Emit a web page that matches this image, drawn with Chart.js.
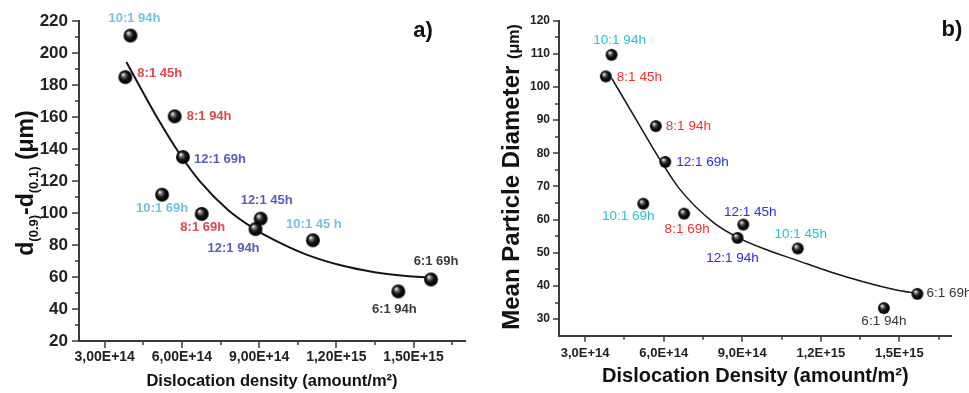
<!DOCTYPE html>
<html><head><meta charset="utf-8">
<script src="https://cdn.jsdelivr.net/npm/chart.js@4.4.1/dist/chart.umd.min.js"></script>
<style>
html,body{margin:0;padding:0;background:#fff;width:969px;height:393px;overflow:hidden;}
#wa{position:absolute;left:0;top:0;width:480px;height:393px;}
#wb{position:absolute;left:480px;top:0;width:489px;height:393px;}
</style></head><body>
<div id="wa"><canvas id="ca" width="480" height="393"></canvas></div>
<div id="wb"><canvas id="cb" width="489" height="393"></canvas></div>
<script>
// ---------- DATA ----------
const sampleLabelsA = ['10:1 94h','8:1 45h','8:1 94h','12:1 69h','10:1 69h','8:1 69h','12:1 94h','12:1 45h','10:1 45 h','6:1 94h','6:1 69h'];
const sampleLabelsB = ['10:1 94h','8:1 45h','8:1 94h','12:1 69h','10:1 69h','8:1 69h','12:1 94h','12:1 45h','10:1 45h','6:1 94h','6:1 69h'];
const ratioGroup = ['10:1','8:1','8:1','12:1','10:1','8:1','12:1','12:1','10:1','6:1','6:1'];

const densityA = [4.0e14, 3.8e14, 5.72e14, 6.04e14, 5.23e14, 6.77e14, 8.86e14, 9.06e14, 1.109e15, 1.441e15, 1.568e15];
const spanA    = [211, 185, 160.5, 135, 111.5, 99.5, 90, 96.5, 83, 51, 58.5];

const densityB = [4.01e14, 3.79e14, 5.70e14, 6.06e14, 5.22e14, 6.78e14, 8.82e14, 9.04e14, 1.112e15, 1.441e15, 1.569e15];
const meanDiamB = [109.7, 103.2, 88.2, 77.4, 64.8, 61.8, 54.5, 58.5, 51.3, 33.3, 37.6];

// fitted curves
const fitXA = [3.84e14, 5.1e14, 5.85e14, 6.69e14, 7.79e14, 8.83e14, 9.54e14, 1.084e15, 1.213e15, 1.343e15, 1.472e15, 1.556e15];
const fitYA = [194.5, 158, 138.5, 120, 102, 90, 83.5, 74, 67.5, 63.2, 60.7, 59.7];
const fitXB = [4.01e14, 5.02e14, 5.85e14, 6.61e14, 7.89e14, 8.84e14, 9.8e14, 1.107e15, 1.234e15, 1.362e15, 1.489e15, 1.565e15];
const fitYB = [102.7, 89.2, 78.2, 69.2, 59.2, 54.6, 51.3, 47.8, 44.3, 41.3, 38.8, 37.8];

// axis ticks
const xMajor = [3e14, 6e14, 9e14, 1.2e15, 1.5e15];
const xMinor = [4.5e14, 7.5e14, 1.05e15, 1.35e15, 1.65e15];
const xTickLabelsA = ['3,00E+14','6,00E+14','9,00E+14','1,20E+15','1,50E+15'];
const xTickLabelsB = ['3,0E+14','6,0E+14','9,0E+14','1,2E+15','1,5E+15'];
const yMajorA = [20,40,60,80,100,120,140,160,180,200,220];
const yMinorA = [30,50,70,90,110,130,150,170,190,210];
const yMajorB = [30,40,50,60,70,80,90,100,110,120];
const yMinorB = [35,45,55,65,75,85,95,105,115];

// ---------- STYLE ----------
const FONT = 'Arial, "Liberation Sans", sans-serif';
const colorsA = {'10:1':'#74c3de','8:1':'#e0474f','12:1':'#5a5cc6','6:1':'#3a3a3a'};
const colorsB = {'10:1':'#1ec6d2','8:1':'#ff2a2a','12:1':'#2a2aff','6:1':'#333333'};
// label offsets (px) relative to each marker: [dx, dy, align]
const offsA = [[4,-17,'center'],[12,-4,'left'],[12,0,'left'],[11,2,'left'],[0,14,'center'],[1,14,'center'],[-22,19,'center'],[6,-18,'center'],[1,-16,'center'],[-4,18,'center'],[5,-18,'center']];
const offsB = [[8,-15,'center'],[11,1,'left'],[10,0,'left'],[11,0,'left'],[-15,13,'center'],[3,16,'center'],[-5,20,'center'],[7,-12,'center'],[3,-14,'center'],[0,13,'center'],[9,-1,'left']];

function makeBall(r){
  const s = Math.ceil(r*2+2);
  const c = document.createElement('canvas'); c.width = s; c.height = s;
  const g = c.getContext('2d'); const cx = s/2, cy = s/2;
  const grad = g.createRadialGradient(cx-r*0.35, cy-r*0.4, r*0.05, cx, cy, r);
  grad.addColorStop(0,'#f4f4f4'); grad.addColorStop(0.22,'#808080');
  grad.addColorStop(0.5,'#1c1c1c'); grad.addColorStop(0.85,'#000'); grad.addColorStop(1,'#2a2a2a');
  g.fillStyle = grad; g.beginPath(); g.arc(cx,cy,r,0,Math.PI*2); g.fill();
  return c;
}

const extras = {
  id:'extras',
  afterDraw(chart, args, o){
    const ctx = chart.ctx, xs = chart.scales.x, ys = chart.scales.y, ca = chart.chartArea;
    ctx.save();
    // tick marks (outward)
    ctx.strokeStyle = o.tickColor; ctx.lineWidth = o.tickWidth;
    const seg = (x1,y1,x2,y2)=>{ctx.beginPath();ctx.moveTo(x1,y1);ctx.lineTo(x2,y2);ctx.stroke();};
    xMajor.forEach(v=>{const p=Math.round(xs.getPixelForValue(v)); seg(p,ca.bottom,p,ca.bottom+o.major);});
    xMinor.forEach(v=>{const p=Math.round(xs.getPixelForValue(v)); seg(p,ca.bottom,p,ca.bottom+o.minor);});
    o.yMajor.forEach(v=>{const p=Math.round(ys.getPixelForValue(v)); seg(ca.left,p,ca.left-o.major,p);});
    o.yMinor.forEach(v=>{const p=Math.round(ys.getPixelForValue(v)); seg(ca.left,p,ca.left-o.minor,p);});
    // point labels
    const meta = chart.getDatasetMeta(0);
    ctx.font = o.labelFont; ctx.textBaseline = 'middle';
    meta.data.forEach((pt,i)=>{
      const off = o.offs[i];
      ctx.fillStyle = o.colors[ratioGroup[i]];
      ctx.textAlign = off[2];
      ctx.fillText(o.labels[i], pt.x+off[0], pt.y+off[1]);
    });
    // panel letter
    ctx.fillStyle = '#111'; ctx.font = 'bold 22px ' + FONT; ctx.textAlign='center';
    ctx.fillText(o.panel[0], o.panel[1], o.panel[2]);
    // rotated y title with mixed sizes
    const t = o.yTitle;
    ctx.translate(t.cx, t.cy); ctx.rotate(-Math.PI/2);
    ctx.textAlign = 'left'; ctx.textBaseline = 'alphabetic'; ctx.fillStyle = '#111';
    let total = 0;
    t.segs.forEach(s=>{ctx.font = s[1]; total += ctx.measureText(s[0]).width;});
    let x = -total/2;
    t.segs.forEach(s=>{ctx.font = s[1]; ctx.fillText(s[0], x, t.base + s[2]); x += ctx.measureText(s[0]).width;});
    ctx.restore();
  }
};

function build(canvas, cfg){
  const pts = cfg.xs.map((x,i)=>({x, y: cfg.ys[i]}));
  const fit = cfg.fx.map((x,i)=>({x, y: cfg.fy[i]}));
  return new Chart(canvas, {
    type:'scatter',
    data:{datasets:[
      {data: pts, pointStyle: makeBall(cfg.r), pointRadius: cfg.r, pointHoverRadius: cfg.r, showLine:false, order:0},
      {type:'line', data: fit, borderColor:'#151515', borderWidth: cfg.lw, pointRadius:0, fill:false, cubicInterpolationMode:'monotone', order:1}
    ]},
    options:{
      responsive:false, animation:false, devicePixelRatio:1,
      layout:{padding: cfg.pad},
      plugins:{legend:{display:false}, tooltip:{enabled:false}, extras: cfg.extras},
      scales:{
        x:{type:'linear', min:2e14, max:1.7e15,
          afterBuildTicks: s=>{ s.ticks = xMajor.map(v=>({value:v})); },
          afterFit: s=>{ s.height = cfg.xH; },
          grid:{display:false, drawTicks:false}, border:{display:true, color:'#3a3a3a', width:2},
          ticks:{autoSkip:false, maxRotation:0, padding: cfg.xPad, color:'#222', font:{family:FONT, size:cfg.xTickSize, weight:'bold'},
            callback:(v,i)=>cfg.xLabels[i]},
          title:{display:true, text:'Dislocation '+cfg.dens+' (amount/m²)', color:'#111', font:{family:FONT, size:cfg.xTitleSize, weight:'bold'}, padding:{top:cfg.xTitlePad, bottom:cfg.xTitlePad}}
        },
        y:{type:'linear', min:cfg.yMin, max:cfg.yMax,
          afterBuildTicks: s=>{ s.ticks = cfg.yMajor.map(v=>({value:v})); },
          afterFit: s=>{ s.width = cfg.yW; },
          grid:{display:false, drawTicks:false}, border:{display:true, color:'#3a3a3a', width:2},
          ticks:{padding: cfg.yPad, color:'#222', font:{family:FONT, size:cfg.yTickSize, weight:'bold'}, callback:v=>String(v)}
        }
      }
    },
    plugins:[extras]
  });
}

build(document.getElementById('ca'), {
  xs: densityA, ys: spanA, fx: fitXA, fy: fitYA, r:7, lw:2,
  pad:{left:0, top:20, right:15, bottom:0}, xH:52, yW:79, xPad:8, yPad:11,
  xTickSize:14, yTickSize:17, xLabels: xTickLabelsA, dens:'density', xTitleSize:16.5, xTitlePad:2,
  yMin:20, yMax:220, yMajor: yMajorA,
  extras:{tickColor:'#3a3a3a', tickWidth:1.5, major:7, minor:4, yMajor:yMajorA, yMinor:yMinorA,
    labelFont:'bold 13px '+FONT, labels: sampleLabelsA, colors: colorsA, offs: offsA, panel:['a)',423,31],
    yTitle:{cx:25, cy:183, base:8, segs:[['d','bold 23px '+FONT,0],['(0.9)','bold 13px '+FONT,5],['-d','bold 23px '+FONT,0],['(0.1)','bold 13px '+FONT,5],[' (μm)','bold 23px '+FONT,0]]}}
});

build(document.getElementById('cb'), {
  xs: densityB, ys: meanDiamB, fx: fitXB, fy: fitYB, r:6, lw:1.5,
  pad:{left:0, top:20.7, right:17.3, bottom:0}, xH:57.3, yW:79, xPad:10, yPad:9,
  xTickSize:13, yTickSize:12, xLabels: xTickLabelsB, dens:'Density', xTitleSize:20, xTitlePad:5,
  yMin:25, yMax:120, yMajor: yMajorB,
  extras:{tickColor:'#3a3a3a', tickWidth:1.5, major:6, minor:4, yMajor:yMajorB, yMinor:yMinorB,
    labelFont:'13.5px '+FONT, labels: sampleLabelsB, colors: colorsB, offs: offsB, panel:['b)',472,30],
    yTitle:{cx:31, cy:177, base:8, segs:[['Mean Particle Diameter ','bold 24px '+FONT,0],['(μm)','bold 16px '+FONT,0]]}}
});
</script>
</body></html>
